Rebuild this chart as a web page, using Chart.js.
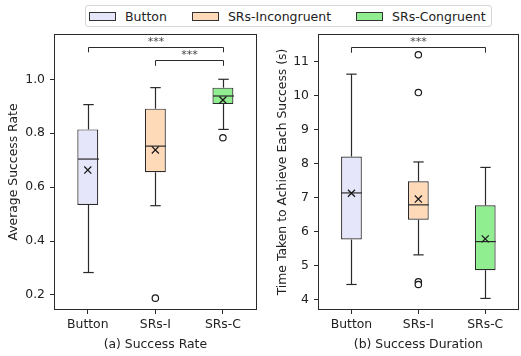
<!DOCTYPE html>
<html>
<head>
    <title>Success rate and duration</title>
    <script src="https://cdn.jsdelivr.net/npm/chart.js@4.4.0/dist/chart.umd.min.js"></script>
    <style>
    body { margin: 0; background: #fff; overflow: hidden; }
    #wrap { position: relative; width: 521px; height: 356px; overflow: hidden; font-family: "DejaVu Sans", sans-serif; }
    .panel { position: absolute; top: 0; height: 356px; }
    #legend {
        position: absolute; left: 85px; top: 5px; height: 20px; width: 405px;
        border: 1px solid #d6d6d6; border-radius: 3px; background: #fff;
        display: flex; align-items: center; font-size: 12.5px; color: #222; white-space: nowrap;
    }
    .item { display: flex; align-items: center; margin-left: 3px; margin-right: 22px; flex: none; }
    .patch { width: 25px; height: 7px; border: 1px solid #333; margin-right: 9px; flex: none; }
    </style>
</head>

<body>
<div id="wrap">
  <div class="panel" style="left:0; width:263px;"><canvas id="rateChart" width="263" height="356"></canvas></div>
  <div class="panel" style="left:263px; width:262px;"><canvas id="durChart" width="262" height="356"></canvas></div>
  <div id="legend"></div>
</div>

<script>
// categories and legend
var categories = ['Button', 'SRs-I', 'SRs-C'];
var legendLabels = ['Button', 'SRs-Incongruent', 'SRs-Congruent'];
var boxColors = ['#e6e6fa', '#ffdab9', '#90ee90'];

// (a) success rate
var rateMin = [0.283, 0.531, 0.814];
var rateQ1 = [0.534, 0.655, 0.908];
var rateMedian = [0.704, 0.752, 0.938];
var rateQ3 = [0.814, 0.891, 0.969];
var rateMax = [0.906, 0.969, 1.0];
var rateMean = [0.663, 0.738, 0.923];
var rateOutliers = [[], [0.188], [0.783]];
var rateTicks = [0.2, 0.4, 0.6, 0.8, 1.0];
var rateBrackets = [[0, 2, 1.119, 1.100], [1, 2, 1.072, 1.050]];

// (b) success duration
var durMin = [4.45, 5.32, 4.04];
var durQ1 = [5.77, 6.35, 4.87];
var durMedian = [7.14, 6.79, 5.71];
var durQ3 = [8.21, 7.48, 6.78];
var durMax = [10.63, 8.05, 7.89];
var durMean = [7.13, 6.96, 5.79];
var durOutliers = [[], [11.2, 10.09, 4.53, 4.45], []];
var durTicks = [4, 5, 6, 7, 8, 9, 10, 11];
var durBrackets = [[0, 2, 11.42, 11.26]];

var ink = '#2a2a2a';
Chart.defaults.font.family = '"DejaVu Sans", sans-serif';
Chart.defaults.font.size = 12.4;
Chart.defaults.color = '#222';

// legend
var lg = document.getElementById('legend');
legendLabels.forEach(function(l, i) {
    var it = document.createElement('div');
    it.className = 'item';
    it.innerHTML = '<span class="patch" style="background:' + boxColors[i] + '"></span><span>' + l + '</span>';
    lg.appendChild(it);
});

// whiskers, caps, medians, frame and significance brackets
var boxParts = {
    id: 'boxParts',
    afterDatasetDraw: function(chart, args, opts) {
        if (args.index !== 0) return;
        var ctx = chart.ctx, y = chart.scales.y;
        var bars = chart.getDatasetMeta(0).data;
        ctx.save();
        ctx.strokeStyle = ink;
        ctx.lineWidth = 1.2;
        bars.forEach(function(bar, i) {
            var x = Math.round(bar.x) + 0.5, hw = bar.width / 2, cw = bar.width / 4;
            var segs = [
                [x, opts.q3[i], x, opts.max[i]],
                [x, opts.q1[i], x, opts.min[i]],
                [x - cw, opts.max[i], x + cw, opts.max[i]],
                [x - cw, opts.min[i], x + cw, opts.min[i]],
                [x - hw, opts.med[i], x + hw, opts.med[i]]
            ];
            segs.forEach(function(s) {
                ctx.beginPath();
                ctx.moveTo(s[0], y.getPixelForValue(s[1]));
                ctx.lineTo(s[2], y.getPixelForValue(s[3]));
                ctx.stroke();
            });
        });
        ctx.restore();
    },
    afterDraw: function(chart, args, opts) {
        var ctx = chart.ctx, a = chart.chartArea, x = chart.scales.x, y = chart.scales.y;
        ctx.save();
        ctx.strokeStyle = ink;
        ctx.lineWidth = 1;
        ctx.strokeRect(Math.round(a.left) + 0.5, Math.round(a.top) + 0.5,
            Math.round(a.right - a.left) - 1, Math.round(a.bottom - a.top) - 1);
        ctx.fillStyle = '#444';
        ctx.font = '11px "DejaVu Sans", sans-serif';
        ctx.textAlign = 'center';
        ctx.textBaseline = 'alphabetic';
        opts.brackets.forEach(function(b) {
            var x1 = Math.round(x.getPixelForValue(b[0])) + 0.5, x2 = Math.round(x.getPixelForValue(b[1])) + 0.5;
            var yt = Math.round(y.getPixelForValue(b[2])) + 0.5, yb = y.getPixelForValue(b[3]);
            ctx.beginPath();
            ctx.moveTo(x1, yb); ctx.lineTo(x1, yt); ctx.lineTo(x2, yt); ctx.lineTo(x2, yb);
            ctx.stroke();
            ctx.fillText('***', (x1 + x2) / 2, yt - 3);
        });
        ctx.restore();
    }
};

function makeChart(id, stats, yMin, yMax, ticks, fmt, yTitle, xTitle, titlePad, axisW) {
    var outPts = [];
    stats.out.forEach(function(list, i) {
        list.forEach(function(v) { outPts.push({x: categories[i], y: v}); });
    });
    var floating = stats.q1.map(function(v, i) { return [v, stats.q3[i]]; });
    return new Chart(document.getElementById(id), {
        type: 'bar',
        data: {
            labels: categories,
            datasets: [
                {
                    type: 'bar', data: floating, order: 1,
                    backgroundColor: boxColors, borderColor: ink, borderWidth: 1.2,
                    borderSkipped: false, categoryPercentage: 1, barPercentage: 0.31
                },
                {
                    type: 'line', data: stats.mean, order: 0, showLine: false,
                    pointStyle: 'crossRot', pointRadius: 5, borderColor: '#1a1a1a',
                    pointBorderWidth: 1.3
                },
                {
                    type: 'line', data: outPts, order: 0, showLine: false,
                    pointStyle: 'circle', pointRadius: 3.2, backgroundColor: '#fff',
                    borderColor: '#1a1a1a', pointBorderWidth: 1.2
                }
            ]
        },
        options: {
            responsive: false,
            animation: false,
            layout: { padding: { top: 34, right: 1, left: 0, bottom: 0 } },
            plugins: {
                legend: { display: false },
                tooltip: { enabled: false },
                boxParts: { min: stats.min, q1: stats.q1, med: stats.med, q3: stats.q3, max: stats.max, brackets: stats.brackets }
            },
            scales: {
                x: {
                    offset: true,
                    grid: { display: true, offset: false, drawOnChartArea: false, drawTicks: true, tickLength: 4, tickColor: ink },
                    border: { display: false },
                    ticks: { padding: 3, color: '#222' },
                    title: { display: true, text: xTitle, color: '#222', padding: { top: 0, bottom: 4 } },
                    afterFit: function(s) { s.height = 46; }
                },
                y: {
                    min: yMin, max: yMax,
                    grid: { display: true, drawOnChartArea: false, drawTicks: true, tickLength: 4, tickColor: ink },
                    border: { display: false },
                    ticks: { padding: 5, color: '#222', callback: fmt },
                    afterBuildTicks: function(s) { s.ticks = ticks.map(function(v) { return {value: v}; }); },
                    title: { display: true, text: yTitle, color: '#222', padding: { top: titlePad, bottom: 0 } },
                    afterFit: function(s) { s.width = axisW; }
                }
            }
        },
        plugins: [boxParts]
    });
}

makeChart('rateChart',
    { min: rateMin, q1: rateQ1, med: rateMedian, q3: rateQ3, max: rateMax, mean: rateMean, out: rateOutliers, brackets: rateBrackets },
    0.144, 1.168, rateTicks, function(v) { return Number(v).toFixed(1); },
    'Average Success Rate', '(a) Success Rate', 6, 54);

makeChart('durChart',
    { min: durMin, q1: durQ1, med: durMedian, q3: durQ3, max: durMax, mean: durMean, out: durOutliers, brackets: durBrackets },
    3.70, 11.81, durTicks, function(v) { return String(v); },
    'Time Taken to Achieve Each Success (s)', '(b) Success Duration', 12, 55);
</script>
</body>
</html>
